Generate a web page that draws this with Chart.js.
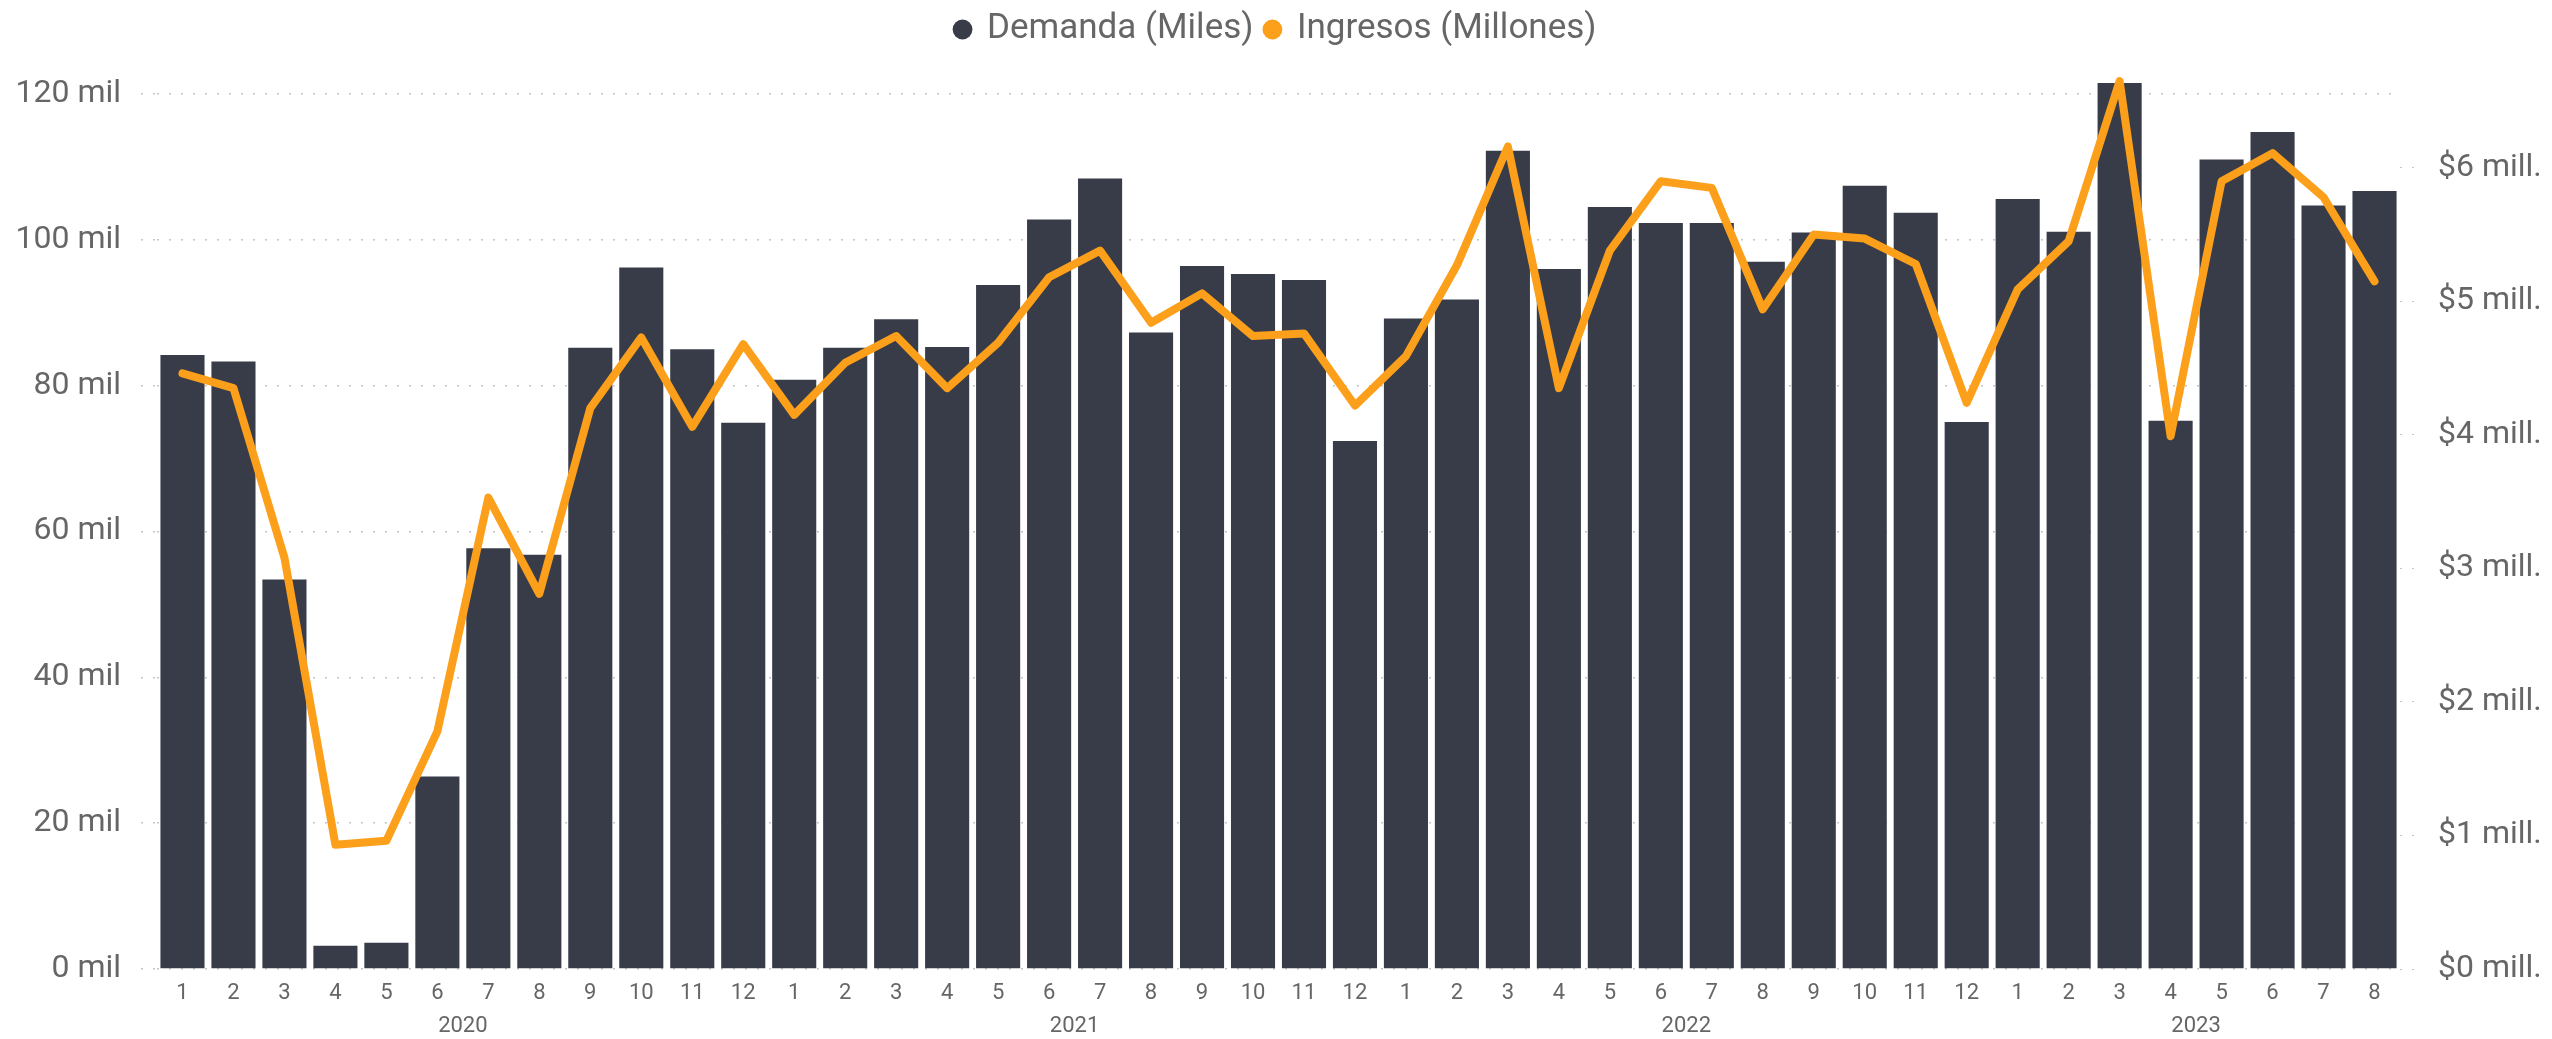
<!DOCTYPE html>
<html>
<head>
<meta charset="utf-8">
<script src="https://cdn.jsdelivr.net/npm/chart.js@4.4.1/dist/chart.umd.min.js"></script>
<style>
  html, body { margin: 0; padding: 0; background: #fff; }
  #chart { display: block; }
</style>
</head>
<body>
<canvas id="chart" width="2552" height="1039"></canvas>
<script>
// months per category, grouped by year
const years = ["2020", "2021", "2022", "2023"];
const monthsPerYear = [12, 12, 12, 8];
const months = [
  1, 2, 3, 4, 5, 6, 7, 8, 9, 10, 11, 12,
  1, 2, 3, 4, 5, 6, 7, 8, 9, 10, 11, 12,
  1, 2, 3, 4, 5, 6, 7, 8, 9, 10, 11, 12,
  1, 2, 3, 4, 5, 6, 7, 8,
];

// Demanda (Miles)
const demanda = [
  84.2, 83.3, 53.4, 3.2, 3.6, 26.4, 57.7, 56.8, 85.2, 96.2, 85.0, 74.9,
  80.8, 85.2, 89.1, 85.3, 93.8, 102.8, 108.4, 87.3, 96.4, 95.3, 94.5, 72.4,
  89.2, 91.8, 112.2, 96.0, 104.5, 102.3, 102.3, 97.0, 101.0, 107.4, 103.7, 75.0,
  105.6, 101.1, 121.5, 75.2, 111.0, 114.8, 104.7, 106.7,
];

// Ingresos (Millones)
const ingresos = [
  4.46, 4.35, 3.08, 0.93, 0.96, 1.78, 3.53, 2.81, 4.20, 4.73, 4.06, 4.68,
  4.15, 4.54, 4.74, 4.35, 4.69, 5.18, 5.38, 4.84, 5.06, 4.74, 4.76, 4.22,
  4.59, 5.27, 6.16, 4.35, 5.38, 5.90, 5.85, 4.94, 5.50, 5.47, 5.28, 4.24,
  5.09, 5.45, 6.65, 3.99, 5.90, 6.11, 5.78, 5.15,
];

const leftTicks = [0, 20, 40, 60, 80, 100, 120];
const rightTicks = [0, 1, 2, 3, 4, 5, 6];

// year label sits under the middle of its months
const yearCenters = [];
let start = 0;
monthsPerYear.forEach((n) => {
  yearCenters.push(start + (n - 1) / 2);
  start += n;
});

const FONT = "Roboto, 'Liberation Sans', sans-serif";
const TEXT = "#666666";
const GRID = "#c6c6c6";

const ctx = document.getElementById("chart").getContext("2d");
const chart = new Chart(ctx, {
  type: "bar",
  data: {
    labels: months.map(String),
    datasets: [
      {
        type: "bar",
        label: "Demanda (Miles)",
        data: demanda,
        backgroundColor: "#373C48",
        borderWidth: 0,
        yAxisID: "y",
        categoryPercentage: 1,
        barPercentage: 0.865,
        order: 1,
      },
      {
        type: "line",
        label: "Ingresos (Millones)",
        data: ingresos,
        borderColor: "#FC9F1A",
        backgroundColor: "#FC9F1A",
        borderWidth: 8,
        borderCapStyle: "round",
        borderJoinStyle: "round",
        pointRadius: 0,
        tension: 0,
        yAxisID: "y1",
        order: 0,
      },
    ],
  },
  options: {
    responsive: false,
    animation: false,
    layout: { padding: 0 },
    plugins: {
      tooltip: { enabled: false },
      legend: {
        position: "top",
        align: "center",
        labels: {
          usePointStyle: true,
          pointStyle: "circle",
          boxWidth: 14,
          boxHeight: 14,
          padding: 12,
          color: TEXT,
          font: { family: FONT, size: 35 },
          sort: (a, b) => a.datasetIndex - b.datasetIndex,
          generateLabels: (c) =>
            Chart.defaults.plugins.legend.labels.generateLabels(c).map((it) => {
              it.lineWidth = 0;
              it.strokeStyle = it.fillStyle;
              return it;
            }),
        },
      },
    },
    scales: {
      x: {
        type: "category",
        offset: true,
        grid: { display: false, drawTicks: false },
        border: { display: false },
        ticks: {
          color: TEXT,
          font: { family: FONT, size: 22 },
          padding: 11,
          maxRotation: 0,
          autoSkip: false,
        },
        afterFit: (s) => { s.height = 38; },
      },
      xYear: {
        type: "linear",
        position: "bottom",
        offset: false,
        bounds: "data",
        min: -0.5,
        max: months.length - 0.5,
        grid: { display: false, drawTicks: false, offset: false },
        border: { display: false },
        afterBuildTicks: (s) => { s.ticks = yearCenters.map((v) => ({ value: v })); },
        ticks: {
          color: TEXT,
          font: { family: FONT, size: 22 },
          padding: 6,
          maxRotation: 0,
          autoSkip: false,
          callback: (v) => years[yearCenters.indexOf(v)],
        },
        afterFit: (s) => { s.height = 32; },
      },
      y: {
        position: "left",
        min: 0,
        max: 125.07,
        afterBuildTicks: (s) => { s.ticks = leftTicks.map((v) => ({ value: v })); },
        grid: {
          color: GRID,
          lineWidth: 1.5,
          tickLength: 16,
          tickColor: GRID,
          tickBorderDash: [2, 10],
        },
        border: { display: false, dash: [2, 10] },
        ticks: {
          color: TEXT,
          font: { family: FONT, size: 32 },
          padding: 20,
          callback: (v) => v + " mil",
        },
        afterFit: (s) => { s.width = 157; },
      },
      y1: {
        position: "right",
        min: 0,
        max: 6.83,
        afterBuildTicks: (s) => { s.ticks = rightTicks.map((v) => ({ value: v })); },
        grid: {
          drawOnChartArea: false,
          tickLength: 16,
          tickColor: GRID,
          tickBorderDash: [2, 10],
        },
        border: { display: false },
        ticks: {
          color: TEXT,
          font: { family: FONT, size: 32 },
          padding: 22,
          callback: (v) => "$" + v + " mill.",
        },
        afterFit: (s) => { s.width = 152; },
      },
    },
  },
});
</script>
</body>
</html>
